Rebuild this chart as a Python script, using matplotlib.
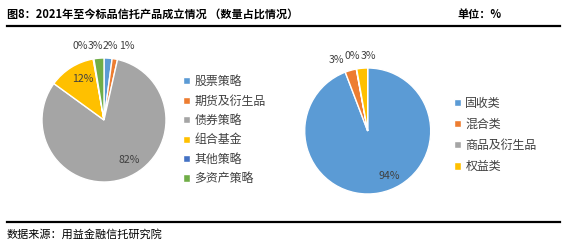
# 2021 standard trust products - share by count, two pies
import matplotlib
matplotlib.use('Agg')
import matplotlib.pyplot as plt
from matplotlib.lines import Line2D

plt.rcParams['font.family'] = ['Noto Sans CJK SC', 'DejaVu Sans']

W, H = 567, 246

TITLE = '图8：2021年至今标品信托产品成立情况 （数量占比情况）'
UNIT = '单位：%'
SOURCE = '数据来源：用益金融信托研究院'

left_labels = ['股票策略', '期货及衍生品', '债券策略', '组合基金', '其他策略', '多资产策略']
left_values = [2.1, 1.4, 81.5, 12.2, 0.2, 2.6]
left_colors = ['#5B9BD5', '#ED7D31', '#A5A5A5', '#FFC000', '#4472C4', '#70AD47']

right_labels = ['固收类', '混合类', '商品及衍生品', '权益类']
right_values = [94.2, 2.9, 0.1, 2.8]
right_colors = ['#5B9BD5', '#ED7D31', '#A5A5A5', '#FFC000']

# where the percentage labels sit, in pie-radius units
left_label_pos = [(0.11, 1.19), (0.37, 1.19), (0.40, -0.65),
                  (-0.35, 0.66), (-0.38, 1.19), (-0.14, 1.19)]
right_label_pos = [(0.34, -0.71), (-0.50, 1.12), (-0.24, 1.19), (0.01, 1.19)]


def fx(px):
    return px / W


def fy(py):
    return 1 - py / H


def draw_pie(fig, cx, cy, r, values, colors, labels, label_pos,
             leg_x, leg_top, leg_spacing):
    ax = fig.add_axes([fx(cx - 1.25 * r), fy(cy + 1.25 * r), 2.5 * r / W, 2.5 * r / H])
    wedges, texts, autotexts = ax.pie(
        values, colors=colors, startangle=90, counterclock=False,
        autopct='%.0f%%', wedgeprops=dict(edgecolor='white', linewidth=1),
        textprops=dict(fontsize=7.6, color='#404040'))
    for t, pos in zip(autotexts, label_pos):
        t.set_position(pos)
    ax.set_xlim(-1.25, 1.25)
    ax.set_ylim(-1.25, 1.25)
    ax.set_aspect('equal')
    ax.legend(wedges, labels, loc='upper left',
              bbox_to_anchor=(fx(leg_x), fy(leg_top)), bbox_transform=fig.transFigure,
              frameon=False, fontsize=8.6, handlelength=0.55, handleheight=0.55,
              handletextpad=0.4, labelspacing=leg_spacing,
              borderpad=0, borderaxespad=0, labelcolor='#404040')
    return ax


fig = plt.figure(figsize=(W / 100, H / 100), dpi=100)

fig.text(fx(7), fy(14.5), TITLE, fontsize=8, fontweight='bold', va='center', ha='left')
fig.text(fx(457), fy(14.5), UNIT, fontsize=8, fontweight='bold', va='center', ha='left')
fig.add_artist(Line2D([fx(7), fx(560)], [fy(25.5), fy(25.5)],
                      transform=fig.transFigure, color='black', lw=1.6))
fig.add_artist(Line2D([fx(7), fx(560)], [fy(221.5), fy(221.5)],
                      transform=fig.transFigure, color='black', lw=1.6))
fig.text(fx(7), fy(234), SOURCE, fontsize=8, va='center', ha='left')

draw_pie(fig, 104, 120, 62, left_values, left_colors, left_labels, left_label_pos,
         183, 75, 0.54)
draw_pie(fig, 367.7, 131, 63, right_values, right_colors, right_labels, right_label_pos,
         454, 96.5, 0.69)

fig.savefig('out.png', dpi=100)
